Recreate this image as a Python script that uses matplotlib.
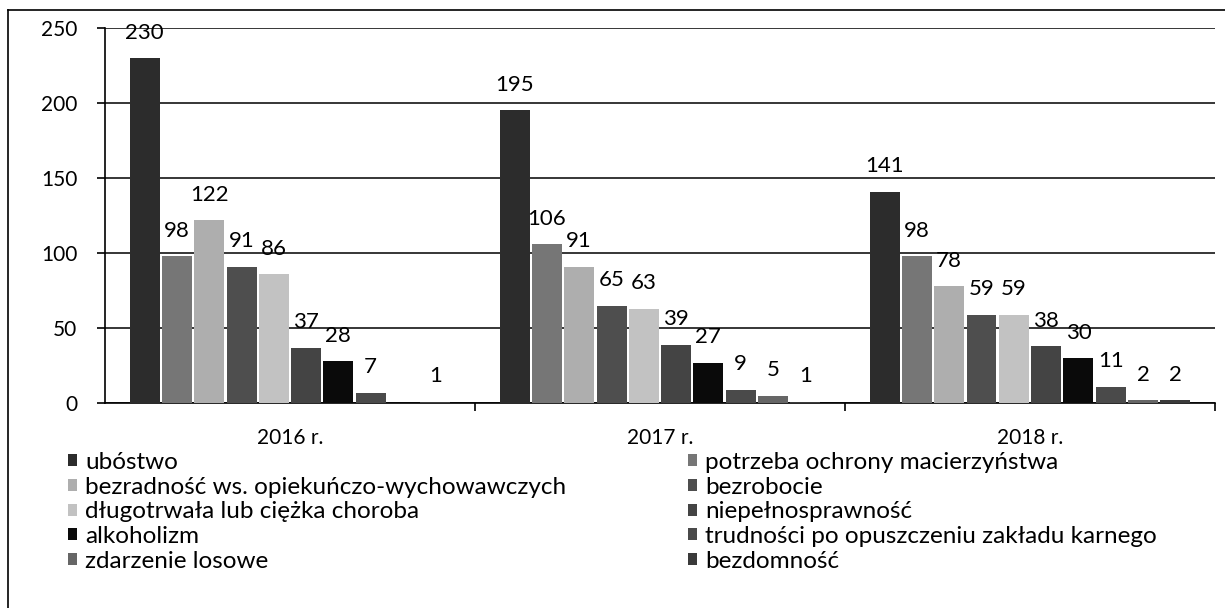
import numpy as np
import matplotlib
matplotlib.use("Agg")
import matplotlib.pyplot as plt
from matplotlib.lines import Line2D

plt.rcParams["font.family"] = ["Lato", "DejaVu Sans"]

years = ["2016 r.", "2017 r.", "2018 r."]
categories = [
    "ubóstwo",
    "potrzeba ochrony macierzyństwa",
    "bezradność ws. opiekuńczo-wychowawczych",
    "bezrobocie",
    "długotrwała lub ciężka choroba",
    "niepełnosprawność",
    "alkoholizm",
    "trudności po opuszczeniu zakładu karnego",
    "zdarzenie losowe",
    "bezdomność",
]
# one list per category: 2016, 2017, 2018 (0 = no bar / no label)
ubostwo = [230, 195, 141]
macierzynstwo = [98, 106, 98]
bezradnosc = [122, 91, 78]
bezrobocie = [91, 65, 59]
choroba = [86, 63, 59]
niepelnosprawnosc = [37, 39, 38]
alkoholizm = [28, 27, 30]
zaklad_karny = [7, 9, 11]
zdarzenie = [0, 5, 2]
bezdomnosc = [1, 1, 2]
values = [ubostwo, macierzynstwo, bezradnosc, bezrobocie, choroba,
          niepelnosprawnosc, alkoholizm, zaklad_karny, zdarzenie, bezdomnosc]

colors = ["#2c2c2c", "#767676", "#aeaeae", "#4e4e4e", "#c2c2c2",
          "#444444", "#0a0a0a", "#4a4a4a", "#666666", "#3a3a3a"]

fig = plt.figure(figsize=(12.25, 6.08), dpi=100)
ax = fig.add_axes([0.0857, 0.337, 0.9061, 0.617])

x = np.arange(len(years))
step = 0.0873
width = 0.081
handles = []
for i, (cat, vals) in enumerate(zip(categories, values)):
    pos = x + (i - 4.5) * step
    bars = ax.bar(pos, vals, width=width, color=colors[i], linewidth=0,
                  label=cat, zorder=3)
    handles.append(bars)
    for xp, v in zip(pos, vals):
        if v > 0:
            ax.annotate(str(v), (xp, v), xytext=(0, 14), textcoords="offset points",
                        ha="center", va="baseline", fontsize=16, zorder=4)

ax.set_xlim(-0.5, 2.5)
ax.set_ylim(0, 250)
ax.set_yticks(range(0, 251, 50))
ax.yaxis.grid(True, color="black", linewidth=1.1, zorder=0)
ax.set_axisbelow(True)

ax.set_xticks(x)
ax.set_xticklabels(years)
ax.set_xticks([0.5, 1.5, 2.5], minor=True)
ax.tick_params(axis="x", which="major", length=0, pad=18, labelsize=15)
ax.tick_params(axis="x", which="minor", length=6, width=1.2, direction="out")
ax.tick_params(axis="y", length=6, width=1.2, pad=14, labelsize=15)

for s in ["top", "right"]:
    ax.spines[s].set_visible(False)
ax.spines["left"].set_linewidth(1.2)
ax.spines["bottom"].set_linewidth(1.2)

left_idx = [0, 2, 4, 6, 8]
right_idx = [1, 3, 5, 7, 9]
leg_kw = dict(frameon=False, fontsize=17.5, handlelength=0.38, handleheight=0.38,
              handletextpad=0.32, labelspacing=0.15, borderpad=0, borderaxespad=0,
              loc="upper left")
leg1 = fig.legend([handles[i] for i in left_idx], [categories[i] for i in left_idx],
                  bbox_to_anchor=(68 / 1225, 1 - 452 / 608), **leg_kw)
leg2 = fig.legend([handles[i] for i in right_idx], [categories[i] for i in right_idx],
                  bbox_to_anchor=(688 / 1225, 1 - 452 / 608), **leg_kw)

# outer frame (left and top edges visible in the scan)
fig.add_artist(Line2D([8 / 1225, 8 / 1225], [0, 1 - 10 / 608], color="black",
                      linewidth=1.2, transform=fig.transFigure))
fig.add_artist(Line2D([8 / 1225, 1], [1 - 10 / 608, 1 - 10 / 608], color="black",
                      linewidth=1.2, transform=fig.transFigure))

fig.savefig("out.png", dpi=100)
